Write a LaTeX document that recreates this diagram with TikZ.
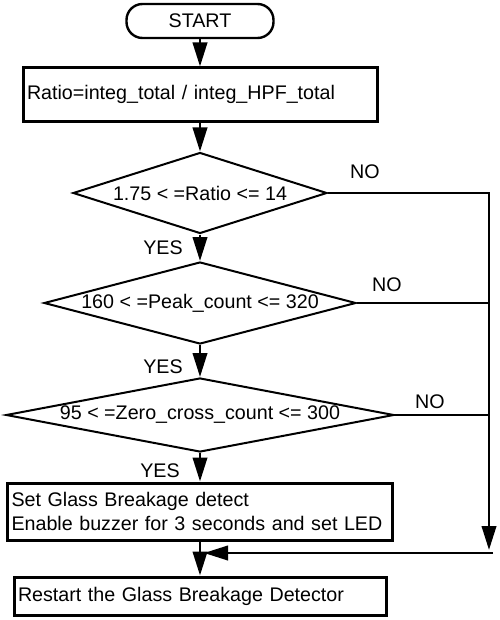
\documentclass[tikz,border=0pt]{standalone}
\usepackage{fontspec}
\setmainfont{Liberation Sans}
\usetikzlibrary{shapes.geometric,arrows.meta}
\newcommand{\px}{0.25mm}
\begin{document}
\begin{tikzpicture}[x=0.25mm,y=-0.25mm,font=\fontsize{14}{16.6}\selectfont,
  terminal/.style={draw,line width=0.6mm,rounded corners=4mm,
    minimum width=147*\px,minimum height=34*\px,inner sep=0pt},
  process/.style={draw,line width=0.75mm,inner xsep=4*\px,inner ysep=0pt,align=left},
  decision/.style={draw,diamond,line width=0.5mm,inner sep=0pt},
  flow/.style={line width=0.65mm,-{Triangle[length=6mm,width=3.6mm]}},
  link/.style={line width=0.65mm}]
  \path[use as bounding box] (0,0) rectangle (500,620);
  % blocks
  \node[terminal] (start) at (200,21) {START};
  \node[process,text width=346*\px,minimum height=53*\px] (ratio) at (200,94.5)
    {Ratio=integ\_total / integ\_HPF\_total};
  \node[decision,minimum width=254*\px,minimum height=81*\px,
    label=center:{1.75 < =Ratio <= 14}] (chkratio) at (200,193) {};
  \node[decision,minimum width=312*\px,minimum height=82*\px,
    label=center:{160 < =Peak\_count <= 320}] (chkpeak) at (200,303) {};
  \node[decision,minimum width=388*\px,minimum height=74*\px,
    label=center:{95 < =Zero\_cross\_count <= 300}] (chkzero) at (200,415) {};
  \node[process,text width=377*\px,minimum height=57*\px] (detect) at (200,511.5)
    {Set Glass Breakage detect\\Enable buzzer for 3 seconds and set LED};
  \node[process,text width=364*\px,minimum height=38*\px] (restart) at (200,596)
    {Restart the Glass Breakage Detector};
  % branch labels
  \node (yes1) at (163,248) {YES};
  \node (yes2) at (163,367) {YES};
  \node (yes3) at (160,471) {YES};
  \node (no1) at (365,172) {NO};
  \node (no2) at (387,285) {NO};
  \node (no3) at (430,402) {NO};
  % connectors
  \coordinate (rbot) at (489,550);
  \coordinate (jright) at (493,553);
  \coordinate (jleft) at (204,553);
  \draw[flow] (start) -- (ratio);
  \draw[flow] (ratio) -- (chkratio);
  \draw[flow] (chkratio) -- (chkpeak);
  \draw[flow] (chkpeak) -- (chkzero);
  \draw[flow] (chkzero) -- (detect);
  \draw[flow] (detect) -- (restart);
  \draw[flow] (chkratio.east) -| (rbot);
  \draw[link] (chkpeak.east) -- (chkpeak.east -| rbot);
  \draw[link] (chkzero.east) -- (chkzero.east -| rbot);
  \draw[flow] (jright) -- (jleft);
\end{tikzpicture}
\end{document}
